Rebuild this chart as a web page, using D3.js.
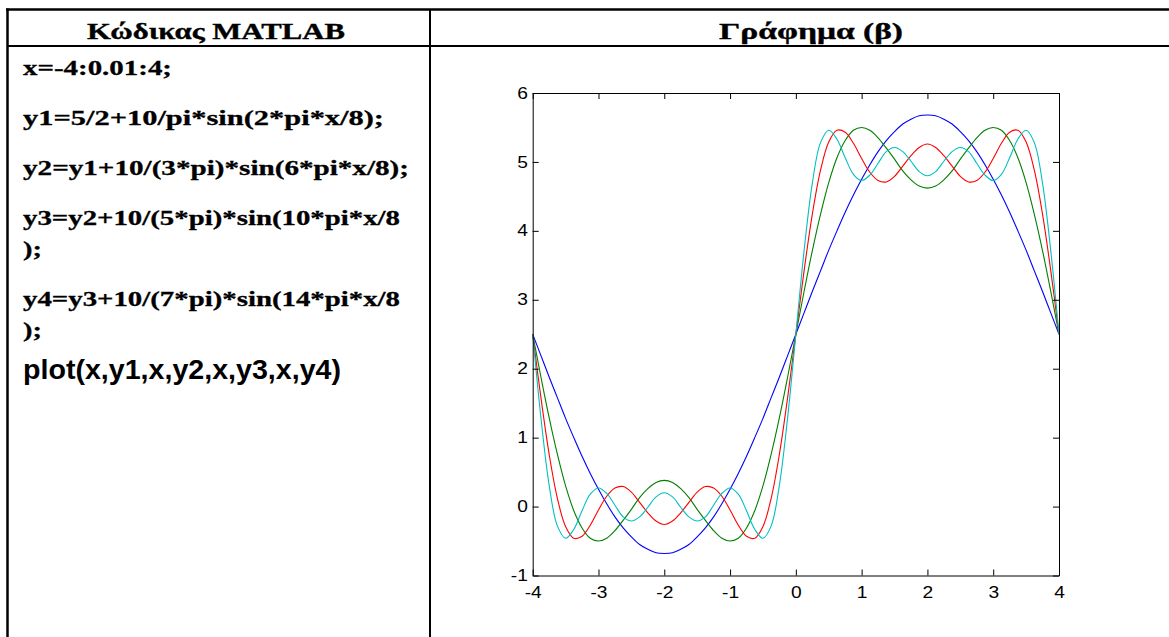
<!DOCTYPE html>
<html>
<head>
<meta charset="utf-8">
<script src="https://cdn.jsdelivr.net/npm/d3@7"></script>
<style>
  html, body { margin: 0; padding: 0; background: #fff; }
  svg { display: block; }
</style>
</head>
<body>
<svg id="chart" width="1169" height="637"></svg>
<script>
// ---- data ----
const headers = ["Κώδικας MATLAB", "Γράφημα (β)"];
const codeLines = [
  "x=-4:0.01:4;",
  "y1=5/2+10/pi*sin(2*pi*x/8);",
  "y2=y1+10/(3*pi)*sin(6*pi*x/8);",
  "y3=y2+10/(5*pi)*sin(10*pi*x/8",
  ");",
  "y4=y3+10/(7*pi)*sin(14*pi*x/8",
  ");"
];
const plotLine = "plot(x,y1,x,y2,x,y3,x,y4)";

const xTicks = [-4, -3, -2, -1, 0, 1, 2, 3, 4];
const yTicks = [-1, 0, 1, 2, 3, 4, 5, 6];

const xs = [-4, -3.875, -3.75, -3.625, -3.5, -3.375, -3.25, -3.125, -3, -2.875, -2.75, -2.625, -2.5, -2.375, -2.25, -2.125,
  -2, -1.875, -1.75, -1.625, -1.5, -1.375, -1.25, -1.125, -1, -0.875, -0.75, -0.625, -0.5, -0.375, -0.25, -0.125,
  0, 0.125, 0.25, 0.375, 0.5, 0.625, 0.75, 0.875, 1, 1.125, 1.25, 1.375, 1.5, 1.625, 1.75, 1.875,
  2, 2.125, 2.25, 2.375, 2.5, 2.625, 2.75, 2.875, 3, 3.125, 3.25, 3.375, 3.5, 3.625, 3.75, 3.875, 4];

const y1 = [2.5, 2.19, 1.88, 1.58, 1.28, 1.00, 0.73, 0.48, 0.25, 0.04, -0.15, -0.31, -0.44, -0.55, -0.62, -0.67, -0.68,
  -0.67, -0.62, -0.55, -0.44, -0.31, -0.15, 0.04, 0.25, 0.48, 0.73, 1.00, 1.28, 1.58, 1.88, 2.19, 2.5,
  2.81, 3.12, 3.42, 3.72, 4.00, 4.27, 4.52, 4.75, 4.96, 5.15, 5.31, 5.44, 5.55, 5.62, 5.67, 5.68,
  5.67, 5.62, 5.55, 5.44, 5.31, 5.15, 4.96, 4.75, 4.52, 4.27, 4.00, 3.72, 3.42, 3.12, 2.81, 2.5];

const y2 = [2.5, 1.88, 1.29, 0.76, 0.30, -0.06, -0.31, -0.46, -0.50, -0.46, -0.35, -0.20, -0.04, 0.13, 0.26, 0.35, 0.38,
  0.35, 0.26, 0.13, -0.04, -0.20, -0.35, -0.46, -0.50, -0.46, -0.31, -0.06, 0.30, 0.76, 1.29, 1.88, 2.5,
  3.12, 3.71, 4.24, 4.70, 5.06, 5.31, 5.46, 5.50, 5.46, 5.35, 5.20, 5.04, 4.87, 4.74, 4.65, 4.62,
  4.65, 4.74, 4.87, 5.04, 5.20, 5.35, 5.46, 5.50, 5.46, 5.31, 5.06, 4.70, 4.24, 3.71, 3.12, 2.5];

const y3 = [2.5, 1.58, 0.76, 0.12, -0.29, -0.46, -0.43, -0.27, -0.05, 0.15, 0.27, 0.29, 0.21, 0.06, -0.09, -0.21, -0.26,
  -0.21, -0.09, 0.06, 0.21, 0.29, 0.27, 0.15, -0.05, -0.27, -0.43, -0.46, -0.29, 0.12, 0.76, 1.58, 2.5,
  3.42, 4.24, 4.88, 5.29, 5.46, 5.43, 5.27, 5.05, 4.85, 4.73, 4.71, 4.79, 4.94, 5.09, 5.21, 5.26,
  5.21, 5.09, 4.94, 4.79, 4.71, 4.73, 4.85, 5.05, 5.27, 5.43, 5.46, 5.29, 4.88, 4.24, 3.42, 2.5];

const y4 = [2.5, 1.29, 0.31, -0.28, -0.46, -0.33, -0.06, 0.18, 0.27, 0.19, 0.02, -0.15, -0.21, -0.15, -0.01, 0.14, 0.20,
  0.14, -0.01, -0.15, -0.21, -0.15, 0.02, 0.19, 0.27, 0.18, -0.06, -0.33, -0.46, -0.28, 0.31, 1.29, 2.5,
  3.71, 4.69, 5.28, 5.46, 5.33, 5.06, 4.82, 4.73, 4.81, 4.98, 5.15, 5.21, 5.15, 5.01, 4.86, 4.80,
  4.86, 5.01, 5.15, 5.21, 5.15, 4.98, 4.81, 4.73, 4.82, 5.06, 5.33, 5.46, 5.28, 4.69, 3.71, 2.5];

const seriesNames = ["y1", "y2", "y3", "y4"];
const seriesColors = ["#0000ff", "#008000", "#ff0000", "#00bfbf"];

// ---- drawing ----
(function () {
const svg = d3.select("#chart");
const serif = "'Liberation Serif', 'Times New Roman', serif";
const sans = "'Liberation Sans', Arial, sans-serif";

// table frame
const frame = svg.append("g").attr("stroke", "#000").attr("fill", "none");
frame.append("line").attr("x1", 6).attr("x2", 1169).attr("y1", 9.5).attr("y2", 9.5).attr("stroke-width", 2.5);
frame.append("line").attr("x1", 7.5).attr("x2", 7.5).attr("y1", 8.5).attr("y2", 637).attr("stroke-width", 2.5);
frame.append("line").attr("x1", 7).attr("x2", 1169).attr("y1", 46).attr("y2", 46).attr("stroke-width", 2);
frame.append("line").attr("x1", 430).attr("x2", 430).attr("y1", 9).attr("y2", 637).attr("stroke-width", 2);

// headers
const hx = [216, 811];
const hw = [258, 184];
svg.selectAll("text.hdr").data(headers).join("text")
  .attr("class", "hdr")
  .attr("x", (d, i) => hx[i] - hw[i] / 2).attr("y", 39)
  .attr("textLength", (d, i) => hw[i]).attr("lengthAdjust", "spacingAndGlyphs")
  .attr("font-family", serif).attr("font-weight", "bold").attr("font-size", 22.5)
  .attr("stroke", "#000").attr("stroke-width", 0.35)
  .text(d => d);

// code lines
const baselines = [75, 125, 175, 225, 256, 306, 337];
const widths = [149, 361, 386, 377, 19, 377, 19];
svg.selectAll("text.code").data(codeLines).join("text")
  .attr("class", "code")
  .attr("x", 23).attr("y", (d, i) => baselines[i])
  .attr("textLength", (d, i) => widths[i]).attr("lengthAdjust", "spacingAndGlyphs")
  .attr("font-family", serif).attr("font-weight", "bold").attr("font-size", 22)
  .attr("stroke", "#000").attr("stroke-width", 0.3)
  .text(d => d);

svg.append("text")
  .attr("x", 23).attr("y", 379)
  .attr("textLength", 318).attr("lengthAdjust", "spacingAndGlyphs")
  .attr("font-family", sans).attr("font-weight", "bold").attr("font-size", 27)
  .text(plotLine);

// plot
const pLeft = 532.7, pRight = 1059, pTop = 93, pBottom = 575.5;
const x = d3.scaleLinear().domain([-4, 4]).range([pLeft, pRight]);
const y = d3.scaleLinear().domain([-1, 6]).range([pBottom, pTop]);

const plot = svg.append("g");

const lineGen = d3.line()
  .x(d => x(d[0]))
  .y(d => y(d[1]))
  .curve(d3.curveCatmullRom.alpha(0.5));

const allSeries = [y1, y2, y3, y4];
plot.selectAll("path.series").data(allSeries).join("path")
  .attr("class", "series")
  .attr("fill", "none")
  .attr("stroke", (d, i) => seriesColors[i])
  .attr("stroke-width", 1.1)
  .attr("d", d => lineGen(d.map((v, i) => [xs[i], v])));

// axes
const fmt = d => String(d);
function styleAxis(g) {
  g.select(".domain").attr("stroke", "#000").attr("stroke-width", 1);
  g.selectAll(".tick line").attr("stroke", "#000");
  g.selectAll(".tick text").attr("font-family", sans).attr("font-size", 16).attr("fill", "#000");
}

const axB = plot.append("g").attr("transform", `translate(0,${pBottom})`)
  .call(d3.axisBottom(x).tickValues(xTicks).tickSize(-6).tickSizeOuter(0).tickPadding(11).tickFormat(fmt));
styleAxis(axB);
axB.selectAll(".tick text").attr("transform", "scale(1.2,1)");

const axT = plot.append("g").attr("transform", `translate(0,${pTop})`)
  .call(d3.axisTop(x).tickValues(xTicks).tickSize(-6).tickSizeOuter(0).tickFormat(""));
styleAxis(axT);

const axL = plot.append("g").attr("transform", `translate(${pLeft},0)`)
  .call(d3.axisLeft(y).tickValues(yTicks).tickSize(-6).tickSizeOuter(0).tickPadding(4).tickFormat(fmt));
styleAxis(axL);
axL.selectAll(".tick text").attr("transform", "scale(1.2,1)");

const axR = plot.append("g").attr("transform", `translate(${pRight},0)`)
  .call(d3.axisRight(y).tickValues(yTicks).tickSize(-6).tickSizeOuter(0).tickFormat(""));
styleAxis(axR);
})();
</script>
</body>
</html>
